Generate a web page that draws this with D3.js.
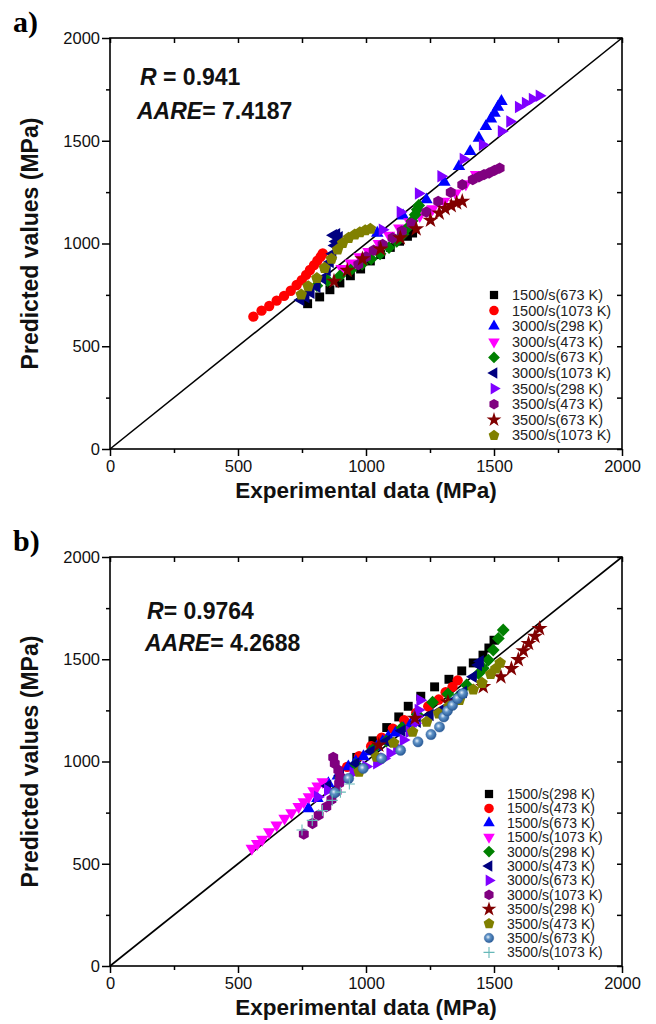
<!DOCTYPE html>
<html><head><meta charset="utf-8">
<script src="https://cdn.jsdelivr.net/npm/d3@7"></script>
<style>body{margin:0;background:#fff}svg{display:block}</style>
</head><body>
<svg id="c" width="656" height="1024"></svg>
<script>
// ---------- data ----------
const majorTicks = [0, 500, 1000, 1500, 2000];
const minorTicks = [250, 750, 1250, 1750];
const diagonal = [[0, 0], [2000, 2000]];

const namesA = ["1500/s(673 K)","1500/s(1073 K)","3000/s(298 K)","3000/s(473 K)","3000/s(673 K)",
                "3000/s(1073 K)","3500/s(298 K)","3500/s(473 K)","3500/s(673 K)","3500/s(1073 K)"];
const namesB = ["1500/s(298 K)","1500/s(473 K)","1500/s(673 K)","1500/s(1073 K)","3000/s(298 K)","3000/s(473 K)",
                "3000/s(673 K)","3000/s(1073 K)","3500/s(298 K)","3500/s(473 K)","3500/s(673 K)","3500/s(1073 K)"];
const statsA = ["0.941", "7.4187"];
const statsB = ["0.9764", "4.2688"];

// panel a: [experimental, predicted]
const a1500_673  = [[772,707],[819,740],[859,775],[898,808],[939,843],[979,876],[1017,915],[1057,946],[1095,981],[1131,1011],[1162,1035],[1182,1051]];
const a1500_1073 = [[560,644],[592,673],[622,696],[651,722],[680,745],[706,770],[729,798],[749,822],[766,847],[781,871],[797,895],[810,916],[823,936],[831,952]];
const a3000_298  = [[1044,1051],[1145,1135],[1236,1213],[1306,1299],[1363,1375],[1407,1448],[1441,1513],[1468,1570],[1488,1607],[1502,1635],[1515,1664],[1529,1692]];
const a3000_473  = [[905,878],[940,905],[975,935],[1010,960],[1050,1000],[1090,1040],[1130,1075],[1170,1105],[1210,1135],[1260,1168],[1305,1205],[1350,1245],[1390,1290],[1430,1335]];
const a3000_673  = [[808,795],[850,820],[898,842],[940,870],[985,900],[1020,925],[1055,950],[1090,980],[1120,1010],[1145,1045],[1165,1080],[1180,1110],[1192,1140],[1200,1165],[1206,1185]];
const a3000_1073 = [[745,725],[765,740],[785,760],[808,790],[830,830],[848,870],[860,910],[870,950],[878,990],[882,1010],[872,1040],[885,1045],[895,1030]];
const a3500_298  = [[1064,1067],[1134,1153],[1205,1243],[1293,1327],[1380,1411],[1455,1481],[1529,1546],[1562,1594],[1596,1664],[1623,1684],[1650,1703],[1677,1719]];
const a3500_473  = [[970,897],[1000,935],[1030,967],[1065,995],[1104,1027],[1140,1060],[1178,1097],[1236,1153],[1282,1205],[1331,1249],[1376,1286],[1417,1311],[1441,1324],[1461,1335],[1481,1343],[1502,1356],[1522,1367]];
const a3500_673  = [[875,816],[927,869],[986,925],[1057,973],[1134,1027],[1196,1071],[1252,1113],[1286,1148],[1309,1170],[1333,1184],[1354,1197],[1376,1205]];
const a3500_1073 = [[747,751],[774,792],[808,832],[838,881],[865,925],[889,970],[909,1002],[932,1027],[956,1043],[976,1054],[997,1064],[1017,1071]];

// panel b
const b1500_298  = [[964,1020],[1027,1101],[1081,1166],[1128,1218],[1165,1270],[1214,1319],[1268,1365],[1324,1402],[1374,1443],[1419,1482],[1457,1520],[1480,1555],[1500,1593]];
const b1500_473  = [[926,974],[973,1026],[1020,1075],[1061,1117],[1105,1161],[1149,1202],[1196,1238],[1243,1270],[1284,1303],[1311,1339],[1338,1365],[1358,1397]];
const b1500_673  = [[775,770],[810,820],[853,893],[890,930],[931,975],[960,1000],[990,1024],[1015,1048],[1042,1072],[1065,1098],[1087,1121],[1115,1140],[1146,1162],[1175,1185]];
const b1500_1073 = [[554,575],[575,598],[595,619],[622,656],[651,689],[682,722],[709,749],[737,779],[757,803],[777,827],[795,857],[811,880],[831,901]];
const b3000_298  = [[900,920],[960,985],[1027,1059],[1080,1100],[1140,1165],[1200,1230],[1260,1290],[1320,1330],[1365,1324],[1393,1374],[1440,1430],[1458,1456],[1478,1496],[1497,1545],[1517,1602],[1536,1643]];
const b3000_473  = [[850,880],[900,930],[960,990],[1020,1050],[1080,1100],[1140,1150],[1200,1195],[1250,1227],[1290,1250],[1330,1290],[1380,1340],[1419,1415],[1439,1472],[1446,1490]];
const b3000_673  = [[811,827],[850,860],[900,905],[950,945],[1000,975],[1042,992],[1070,1015],[1094,1040],[1120,1070],[1146,1105],[1170,1145],[1191,1187],[1200,1220],[1204,1252],[1211,1300]];
const b3000_1073 = [[757,645],[791,697],[815,738],[845,778],[865,814],[885,852],[895,893],[899,925],[892,958],[878,990],[872,1020]];
const b3500_298  = [[1050,1080],[1191,1211],[1320,1290],[1458,1366],[1527,1414],[1568,1454],[1595,1498],[1615,1541],[1635,1577],[1660,1612],[1678,1650]];
const b3500_473  = [[973,950],[1041,1023],[1108,1091],[1182,1145],[1237,1194],[1284,1235],[1324,1270],[1365,1300],[1419,1352],[1453,1384],[1487,1427],[1507,1454],[1524,1482]];
const b3500_673  = [[878,847],[932,917],[989,966],[1061,1015],[1135,1055],[1203,1096],[1254,1132],[1287,1169],[1304,1218],[1318,1248],[1338,1275],[1358,1308],[1378,1332]];
const b3500_1073 = [[750,665],[790,712],[830,760],[868,810],[900,850],[935,890]];

const seriesA = [a1500_673,a1500_1073,a3000_298,a3000_473,a3000_673,a3000_1073,a3500_298,a3500_473,a3500_673,a3500_1073];
const seriesB = [b1500_298,b1500_473,b1500_673,b1500_1073,b3000_298,b3000_473,b3000_673,b3000_1073,b3500_298,b3500_473,b3500_673,b3500_1073];

// ---------- styles ----------
const stylesA = [
  {shape:"square",  color:"#000000"},
  {shape:"circle",  color:"#ff0000"},
  {shape:"triUp",   color:"#0000ff"},
  {shape:"triDown", color:"#ff00ff"},
  {shape:"diamond", color:"#008000"},
  {shape:"triLeft", color:"#000080"},
  {shape:"triRight",color:"#8000ff"},
  {shape:"hexagon", color:"#800080"},
  {shape:"star",    color:"#800000"},
  {shape:"pentagon",color:"#808000"}
];
const stylesB = [
  {shape:"square",  color:"#000000"},
  {shape:"circle",  color:"#ff0000"},
  {shape:"triUp",   color:"#0000ff"},
  {shape:"triDown", color:"#ff00ff"},
  {shape:"diamond", color:"#008000"},
  {shape:"triLeft", color:"#000080"},
  {shape:"triRight",color:"#8000ff"},
  {shape:"hexagon", color:"#800080"},
  {shape:"star",    color:"#800000"},
  {shape:"pentagon",color:"#808000"},
  {shape:"sphere",  color:"#3a72b0"},
  {shape:"plus",    color:"#66b8b8"}
];

const svg = d3.select("#c");
const defs = svg.append("defs");
const grad = defs.append("radialGradient").attr("id","sph").attr("cx","40%").attr("cy","40%").attr("r","60%");
grad.append("stop").attr("offset","0%").attr("stop-color","#e8f2fb");
grad.append("stop").attr("offset","40%").attr("stop-color","#5f92c6");
grad.append("stop").attr("offset","100%").attr("stop-color","#2a5c98");

function polyPath(n, r, rot) {
  const pts = d3.range(n).map(i => {
    const a = rot + i * 2 * Math.PI / n;
    return [r * Math.cos(a), r * Math.sin(a)];
  });
  return "M" + pts.map(p => p[0].toFixed(2) + "," + p[1].toFixed(2)).join("L") + "Z";
}
function shapeInfo(shape, k) {
  const tri = d3.symbol(d3.symbolTriangle, 68 * k)();
  switch (shape) {
    case "square":   return {d: d3.symbol(d3.symbolSquare, 80 * k)()};
    case "circle":   return {d: d3.symbol(d3.symbolCircle, 84 * k)()};
    case "triUp":    return {d: tri};
    case "triDown":  return {d: tri, rot: 180};
    case "triLeft":  return {d: tri, rot: -90};
    case "triRight": return {d: tri, rot: 90};
    case "diamond":  return {d: polyPath(4, 6.4 * Math.sqrt(k), -Math.PI/2)};
    case "hexagon":  return {d: polyPath(6, 5.7 * Math.sqrt(k), -Math.PI/2)};
    case "pentagon": return {d: polyPath(5, 6.1 * Math.sqrt(k), -Math.PI/2)};
    case "star":     return {d: d3.symbol(d3.symbolStar, 80 * k)()};
    case "sphere":   return {d: d3.symbol(d3.symbolCircle, 84 * k)(), fill: "url(#sph)"};
    case "plus":     return {d: "M-5.5,0L5.5,0M0,-5.5L0,5.5", stroke: true};
  }
}
function drawMarker(g, shape, color, cx, cy, k) {
  const s = shapeInfo(shape, k || 1);
  const p = g.append("path").attr("d", s.d)
    .attr("transform", `translate(${cx},${cy})` + (s.rot ? ` rotate(${s.rot})` : ""));
  if (s.stroke) p.attr("fill", "none").attr("stroke", color).attr("stroke-width", 1.1);
  else p.attr("fill", s.fill || color).attr("stroke", s.fill ? "#2a5c98" : "none").attr("stroke-width", s.fill ? 0.4 : 0);
}

const X0 = 110, X1 = 622;
const font = "Liberation Sans, Arial, sans-serif";

function panel(cfg) {
  const x = d3.scaleLinear().domain([0, 2000]).range([X0, X1]);
  const y = d3.scaleLinear().domain([0, 2000]).range([cfg.bottom, cfg.top]);
  const g = svg.append("g");

  // diagonal line
  g.append("path").datum(diagonal)
    .attr("d", d3.line().x(d => x(d[0])).y(d => y(d[1])))
    .attr("stroke", "#000").attr("stroke-width", 1.6).attr("fill", "none");

  // data markers
  cfg.series.forEach((data, i) => {
    const st = cfg.styles[i];
    const sg = g.append("g");
    data.forEach(d => drawMarker(sg, st.shape, st.color, x(d[0]), y(d[1])));
  });

  // axes
  const styleAxis = sel => {
    sel.select(".domain").remove();
    sel.selectAll("line").attr("stroke", "#000").attr("stroke-width", 1.5);
    sel.selectAll("text").attr("font-family", font).attr("font-size", 16.5).attr("fill", "#111");
  };
  g.append("g").attr("transform", `translate(0,${cfg.bottom})`)
    .call(d3.axisBottom(x).tickValues(majorTicks).tickSize(7).tickPadding(4).tickFormat(d3.format("d")))
    .call(styleAxis);
  g.append("g").attr("transform", `translate(0,${cfg.bottom})`)
    .call(d3.axisBottom(x).tickValues(minorTicks).tickSize(4).tickFormat(""))
    .call(styleAxis);
  g.append("g").attr("transform", `translate(${X0},0)`)
    .call(d3.axisLeft(y).tickValues(majorTicks).tickSize(8).tickPadding(2).tickFormat(d3.format("d")))
    .call(styleAxis);
  g.append("g").attr("transform", `translate(${X0},0)`)
    .call(d3.axisLeft(y).tickValues(minorTicks).tickSize(4).tickFormat(""))
    .call(styleAxis);
  // mirrored inward ticks
  g.append("g").attr("transform", `translate(0,${cfg.top})`)
    .call(d3.axisTop(x).tickValues(majorTicks.concat(minorTicks)).tickSize(-5).tickFormat(""))
    .call(styleAxis);
  g.append("g").attr("transform", `translate(${X1},0)`)
    .call(d3.axisRight(y).tickValues(majorTicks.concat(minorTicks)).tickSize(-5).tickFormat(""))
    .call(styleAxis);

  // frame
  g.append("rect").attr("x", X0).attr("y", cfg.top).attr("width", X1 - X0).attr("height", cfg.bottom - cfg.top)
    .attr("fill", "none").attr("stroke", "#000").attr("stroke-width", 1.6);

  // axis titles
  g.append("text").attr("x", (X0 + X1) / 2).attr("y", cfg.bottom + 49)
    .attr("text-anchor", "middle").attr("font-family", font).attr("font-weight", "bold")
    .attr("font-size", 22.5).attr("fill", "#111").text("Experimental data (MPa)");
  g.append("text").attr("transform", `translate(38,${(cfg.top + cfg.bottom) / 2}) rotate(-90)`)
    .attr("text-anchor", "middle").attr("font-family", font).attr("font-weight", "bold")
    .attr("font-size", 23).attr("fill", "#111").text("Predicted values (MPa)");

  // panel label
  g.append("text").attr("x", 13).attr("y", cfg.labelY)
    .attr("font-family", "Liberation Serif, Times New Roman, serif").attr("font-weight", "bold")
    .attr("font-size", 30).attr("fill", "#000").text(cfg.label);

  // stats annotation
  const t1 = g.append("text").attr("x", cfg.rX).attr("y", cfg.rY)
    .attr("font-family", font).attr("font-weight", "bold").attr("font-size", 23).attr("fill", "#111");
  t1.append("tspan").attr("font-style", "italic").text("R");
  t1.append("tspan").text(cfg.rSep + cfg.stats[0]);
  const t2 = g.append("text").attr("x", cfg.aX).attr("y", cfg.aY)
    .attr("font-family", font).attr("font-weight", "bold").attr("font-size", 23).attr("fill", "#111");
  t2.append("tspan").attr("font-style", "italic").text("AARE");
  t2.append("tspan").text("= " + cfg.stats[1]);

  // legend
  const lg = g.append("g");
  cfg.names.forEach((nm, i) => {
    const yy = cfg.legY + i * cfg.legStep;
    drawMarker(lg, cfg.styles[i].shape, cfg.styles[i].color, cfg.legX, yy, 0.85);
    lg.append("text").attr("x", cfg.legX + 18).attr("y", yy + 5)
      .attr("font-family", font).attr("font-size", cfg.legFont).attr("fill", "#222").text(nm);
  });
}

panel({top: 38, bottom: 449, series: seriesA, styles: stylesA, names: namesA, stats: statsA,
       label: "a)", labelY: 32, rX: 140, rY: 85, rSep: " = ", aX: 137, aY: 119,
       legX: 494, legY: 295, legStep: 15.6, legFont: 14.5});
panel({top: 557, bottom: 966, series: seriesB, styles: stylesB, names: namesB, stats: statsB,
       label: "b)", labelY: 551, rX: 147, rY: 619, rSep: "= ", aX: 145, aY: 651,
       legX: 489, legY: 794, legStep: 14.4, legFont: 14});
</script>
</body></html>
